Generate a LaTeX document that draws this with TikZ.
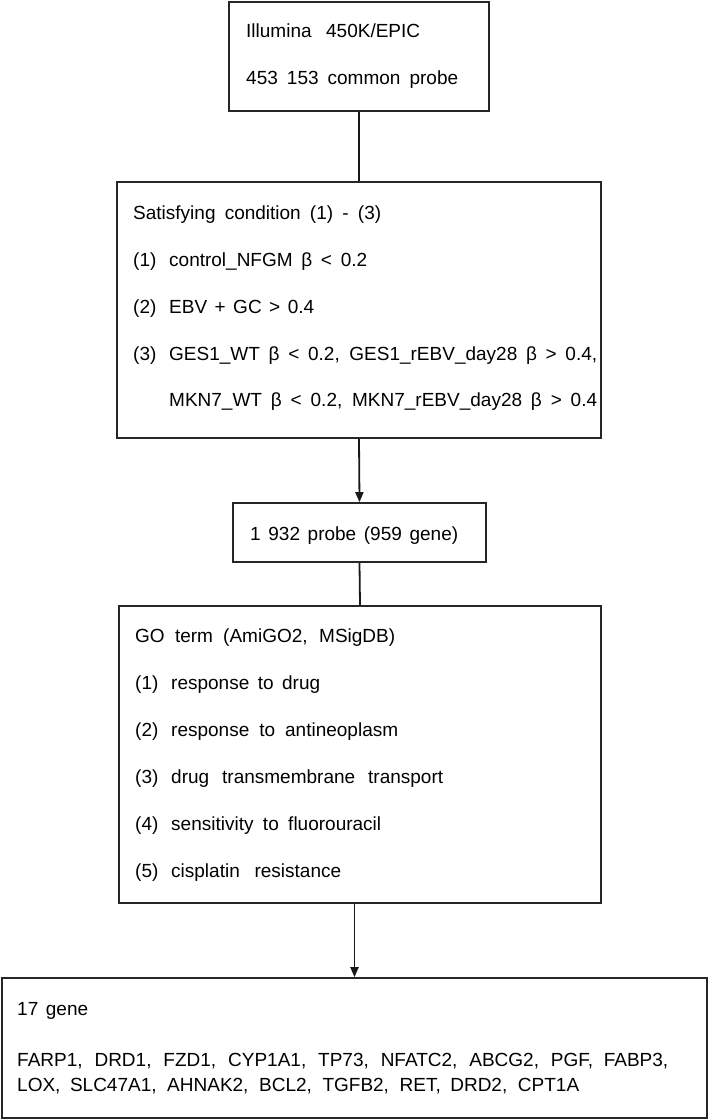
\documentclass[tikz,border=0pt]{standalone}
\usepackage{fontspec}
\setmainfont{Liberation Sans}
\usetikzlibrary{arrows.meta}
\begin{document}
\begin{tikzpicture}[x=1pt,y=-1pt,
  box/.style={draw=black!85, line width=1.6pt, inner sep=0pt},
  txt/.style={anchor=base west, inner sep=0pt, font=\fontsize{19}{22}\selectfont},
  conn/.style={draw=black!90, line width=1.8pt},
  arr/.style={conn, -{Triangle[length=10pt,width=8pt]}}]
\useasboundingbox (0,0) rectangle (709,1120);
\newcommand{\lbl}[1]{\makebox[36pt][l]{#1}}
\newcommand{\fw}[2]{\makebox[#1pt][s]{#2}}
% boxes
\node[box, minimum width=260pt, minimum height=109pt] (b1) at (359,56.5) {};
\node[box, minimum width=484pt, minimum height=256pt] (b2) at (359,310) {};
\node[box, minimum width=253pt, minimum height=59pt] (b3) at (359.5,532.5) {};
\node[box, minimum width=482pt, minimum height=297pt] (b4) at (360,754.5) {};
\node[box, minimum width=705pt, minimum height=140pt] (b5) at (354.5,1048) {};
% box 1 text
\node[txt] (t11) at (246,37.5) {\fw{174}{Illumina 450K/EPIC}};
\node[txt] (t12) at (246,84) {\fw{212}{453 153 common probe}};
% box 2 text
\node[txt] (t21) at (133,219.3) {\fw{248}{Satisfying condition (1) - (3)}};
\node[txt] (t22) at (133,266) {\lbl{(1)}\fw{198}{control\_NFGM β < 0.2}};
\node[txt] (t23) at (133,313) {\lbl{(2)}\fw{145}{EBV + GC > 0.4}};
\node[txt] (t24) at (133,360) {\lbl{(3)}\fw{428}{GES1\_WT β < 0.2, GES1\_rEBV\_day28 β > 0.4,}};
\node[txt] (t25) at (169,406.5) {\fw{428}{MKN7\_WT β < 0.2, MKN7\_rEBV\_day28 β > 0.4}};
% box 3 text
\node[txt] (t31) at (250,540) {\fw{208}{1 932 probe (959 gene)}};
% box 4 text
\node[txt] (t41) at (135,642) {\fw{260}{GO term (AmiGO2, MSigDB)}};
\node[txt] (t42) at (135,689) {\lbl{(1)}\fw{149}{response to drug}};
\node[txt] (t43) at (135,736) {\lbl{(2)}\fw{227}{response to antineoplasm}};
\node[txt] (t44) at (135,783) {\lbl{(3)}\fw{272}{drug transmembrane transport}};
\node[txt] (t45) at (135,830) {\lbl{(4)}\fw{210}{sensitivity to fluorouracil}};
\node[txt] (t46) at (135,877) {\lbl{(5)}\fw{170}{cisplatin resistance}};
% box 5 text
\node[txt] (t51) at (17,1015) {\fw{71}{17 gene}};
\node[txt] (t52) at (17,1066.5) {\fw{651}{FARP1, DRD1, FZD1, CYP1A1, TP73, NFATC2, ABCG2, PGF, FABP3,}};
\node[txt] (t53) at (17,1091.5) {\fw{562}{LOX, SLC47A1, AHNAK2, BCL2, TGFB2, RET, DRD2, CPT1A}};
% connectors
\draw[conn] (b1.south) -- (b2.north);
\draw[arr] (b2.south) -- (b3.north);
\draw[conn] (b3.south) -- (b4.north);
\draw[arr] (b4.south -| b5.north) -- (b5.north);
\end{tikzpicture}
\end{document}
